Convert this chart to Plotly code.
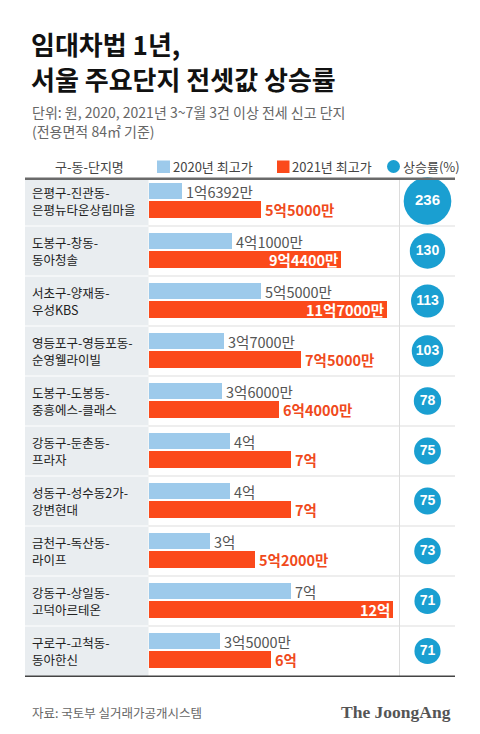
import plotly.graph_objects as go

# ---------------- data ----------------
names_line1 = ["은평구-진관동-", "도봉구-창동-", "서초구-양재동-", "영등포구-영등포동-", "도봉구-도봉동-",
               "강동구-둔촌동-", "성동구-성수동2가-", "금천구-독산동-", "강동구-상일동-", "구로구-고척동-"]
names_line2 = ["은평뉴타운상림마을", "동아청솔", "우성KBS", "순영웰라이빌", "중흥에스-클래스",
               "프라자", "강변현대", "라이프", "고덕아르테온", "동아한신"]
price_2020 = [1.6392, 4.1, 5.5, 3.7, 3.6, 4.0, 4.0, 3.0, 7.0, 3.5]   # 억 원
price_2021 = [5.5, 9.44, 11.7, 7.5, 6.4, 7.0, 7.0, 5.2, 12.0, 6.0]   # 억 원
rise_rate = [236, 130, 113, 103, 78, 75, 75, 73, 71, 71]             # %

legend_names = ["2020년 최고가", "2021년 최고가", "상승률(%)"]

# ---------------- helpers ----------------
W, H = 480, 734
KR = "Noto Sans CJK KR"
BLUE = "#9dcaeb"
RED = "#fb4a1b"
RED_TXT = "#f04a1c"
CIRCLE = "#1a9fd1"


def px(x):
    return x / W


def py(y):
    return 1 - y / H


def fmt(v):
    eok = int(v)
    man = int(round((v - eok) * 10000))
    return f"{eok}억{man}만" if man else f"{eok}억"


n = len(names_line1)
rows = list(range(n))

fig = go.Figure()

fig.add_trace(go.Bar(
    x=price_2020, y=[i + 0.30 for i in rows], orientation="h", width=0.32,
    marker=dict(color=BLUE, line=dict(width=0)), name=legend_names[0],
    xaxis="x", yaxis="y", hoverinfo="skip"))
fig.add_trace(go.Bar(
    x=price_2021, y=[i + 0.66 for i in rows], orientation="h", width=0.34,
    marker=dict(color=RED, line=dict(width=0)), name=legend_names[1],
    xaxis="x", yaxis="y", hoverinfo="skip"))

fig.add_trace(go.Scatter(
    x=[0.5] * n, y=[i + 0.5 for i in rows], mode="markers+text",
    marker=dict(size=rise_rate, sizemode="area", sizeref=0.208, color=CIRCLE,
                opacity=1, line=dict(width=0)),
    text=[f"<b>{r}</b>" for r in rise_rate], textposition="middle center",
    textfont=dict(color="white", family="Liberation Sans, Arial",
                  size=[15 if r > 200 else 14 for r in rise_rate]),
    xaxis="x2", yaxis="y", name=legend_names[2], hoverinfo="skip"))

annotations = []
for i in rows:
    annotations.append(dict(
        x=price_2020[i], y=i + 0.30, xref="x", yref="y", text=fmt(price_2020[i]),
        xanchor="left", yanchor="middle", xshift=2, showarrow=False,
        font=dict(family=KR, size=14.5, color="#555555")))
    v = price_2021[i]
    inside = v >= 9
    annotations.append(dict(
        x=v, y=i + 0.66, xref="x", yref="y", text=f"<b>{fmt(v)}</b>",
        xanchor="right" if inside else "left", yanchor="middle",
        xshift=-1 if inside else 2, showarrow=False,
        font=dict(family=KR, size=14.5, color="white" if inside else RED_TXT)))
    annotations.append(dict(
        x=px(30), y=i + 0.5 - 0.17, xref="paper", yref="y", text=names_line1[i],
        xanchor="left", yanchor="middle", showarrow=False,
        font=dict(family=KR, size=12.5, color="#222222")))
    annotations.append(dict(
        x=px(30), y=i + 0.5 + 0.17, xref="paper", yref="y", text=names_line2[i],
        xanchor="left", yanchor="middle", showarrow=False,
        font=dict(family=KR, size=12.5, color="#222222")))

annotations += [
    dict(x=px(29), y=py(43), xref="paper", yref="paper", text="<b>임대차법 1년,</b>",
         xanchor="left", yanchor="middle", showarrow=False,
         font=dict(family=KR, size=26, color="#111111")),
    dict(x=px(29), y=py(78), xref="paper", yref="paper", text="<b>서울 주요단지 전셋값 상승률</b>",
         xanchor="left", yanchor="middle", showarrow=False,
         font=dict(family=KR, size=26, color="#111111")),
    dict(x=px(30), y=py(112.5), xref="paper", yref="paper",
         text="단위: 원, 2020, 2021년 3~7월 3건 이상 전세 신고 단지",
         xanchor="left", yanchor="middle", showarrow=False,
         font=dict(family=KR, size=14, color="#666666")),
    dict(x=px(30), y=py(131), xref="paper", yref="paper",
         text="(전용면적 84㎡ 기준)",
         xanchor="left", yanchor="middle", showarrow=False,
         font=dict(family=KR, size=14, color="#666666")),
    dict(x=px(89), y=py(166), xref="paper", yref="paper", text="구-동-단지명",
         xanchor="center", yanchor="middle", showarrow=False,
         font=dict(family=KR, size=13, color="#444444")),
    dict(x=px(171), y=py(166), xref="paper", yref="paper", text=legend_names[0],
         xanchor="left", yanchor="middle", showarrow=False,
         font=dict(family=KR, size=13, color="#444444")),
    dict(x=px(290), y=py(166), xref="paper", yref="paper", text=legend_names[1],
         xanchor="left", yanchor="middle", showarrow=False,
         font=dict(family=KR, size=13, color="#444444")),
    dict(x=px(401), y=py(166), xref="paper", yref="paper", text=legend_names[2],
         xanchor="left", yanchor="middle", showarrow=False,
         font=dict(family=KR, size=13, color="#444444")),
    dict(x=px(30), y=py(712), xref="paper", yref="paper", text="자료: 국토부 실거래가공개시스템",
         xanchor="left", yanchor="middle", showarrow=False,
         font=dict(family=KR, size=12.5, color="#666666")),
    dict(x=px(453), y=py(712), xref="paper", yref="paper", text="<b>The JoongAng</b>",
         xanchor="right", yanchor="middle", showarrow=False,
         font=dict(family="Liberation Serif, DejaVu Serif", size=17.5, color="#555555")),
]

shapes = [
    dict(type="rect", xref="paper", yref="paper", x0=px(25), x1=px(148.5),
         y0=py(676), y1=py(179), fillcolor="#e9edf0", line=dict(width=0), layer="below"),
    dict(type="line", xref="paper", yref="paper", x0=px(399.5), x1=px(399.5),
         y0=py(676), y1=py(179), line=dict(color="#dcdcdc", width=1), layer="below"),
    dict(type="rect", xref="paper", yref="paper", x0=px(157), x1=px(170),
         y0=py(173), y1=py(160.5), fillcolor=BLUE, line=dict(width=0)),
    dict(type="rect", xref="paper", yref="paper", x0=px(277), x1=px(289.5),
         y0=py(173), y1=py(160.5), fillcolor=RED, line=dict(width=0)),
    dict(type="circle", xref="paper", yref="paper", x0=px(387), x1=px(400),
         y0=py(173), y1=py(160), fillcolor=CIRCLE, line=dict(width=0)),
]
for i in range(1, n):
    shapes.append(dict(type="line", xref="paper", yref="y", x0=px(25), x1=px(148.5),
                       y0=i, y1=i, line=dict(color="#ffffff", width=1), layer="below"))
    shapes.append(dict(type="line", xref="paper", yref="y", x0=px(148.5), x1=px(455),
                       y0=i, y1=i, line=dict(color="#dddddd", width=1), layer="below"))
shapes.append(dict(type="line", xref="paper", yref="paper", x0=px(25), x1=px(455),
                   y0=py(178.8), y1=py(178.8), line=dict(color="#6a6a6a", width=2.5)))
shapes.append(dict(type="line", xref="paper", yref="paper", x0=px(25), x1=px(455),
                   y0=py(676.3), y1=py(676.3), line=dict(color="#444444", width=1.5)))

fig.update_layout(
    width=W, height=H, margin=dict(l=0, r=0, t=0, b=0),
    paper_bgcolor="white", plot_bgcolor="rgba(0,0,0,0)",
    showlegend=False, barmode="overlay", bargap=0,
    font=dict(family=KR),
    xaxis=dict(domain=[px(149), px(399.5)], range=[0, 250.5 / 20.3], visible=False,
               fixedrange=True, anchor="y"),
    xaxis2=dict(domain=[px(400), px(455)], range=[0, 1], visible=False,
                fixedrange=True, anchor="y"),
    yaxis=dict(domain=[py(676), py(176)], range=[n, 0], visible=False, fixedrange=True),
    annotations=annotations, shapes=shapes,
)

fig.write_html("out.html", config={"displayModeBar": False},
               post_script="document.body.style.margin='0';document.body.style.overflow='hidden';")
